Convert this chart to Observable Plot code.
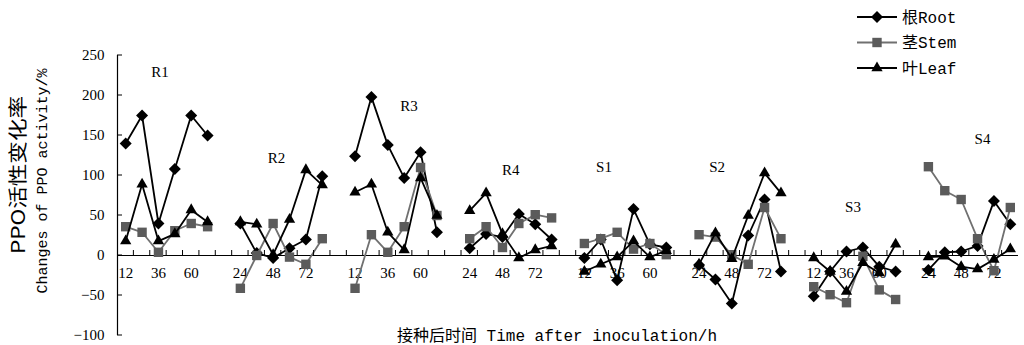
<!DOCTYPE html>
<html>
<head>
<meta charset="utf-8">
<script src="https://cdn.jsdelivr.net/npm/d3@7"></script>
<script src="https://cdn.jsdelivr.net/npm/@observablehq/plot@0.6"></script>
<style>
  html, body { margin: 0; padding: 0; background: #fff; }
</style>
</head>
<body>
<div id="chart"></div>
<script>
// ---- data ----
const groups = ["R1", "R2", "R3", "R4", "S1", "S2", "S3", "S4"];
const times = [12, 24, 36, 48, 60, 72];
const rootByGroup = [
  [140, 175, 40, 108, 175, 150],
  [40, 3, -3, 9, 20, 99],
  [124, 198, 138, 97, 129, 29],
  [9, 27, 23, 52, 39, 20],
  [-3, 20, -31, 58, 14, 10],
  [-12, -30, -60, 25, 70, -20],
  [-51, -20, 5, 10, -14, -20],
  [-18, 4, 5, 12, 68, 39]
];
const stemByGroup = [
  [36, 29, 4, 31, 40, 36],
  [-41, 0, 40, -2, -11, 21],
  [-41, 26, 4, 36, 110, 50],
  [21, 36, 10, 40, 51, 47],
  [15, 21, 29, 8, 15, 1],
  [26, 23, 1, -11, 60, 21],
  [-39, -49, -59, -1, -43, -55],
  [111, 81, 70, 21, -19, 60]
];
const leafByGroup = [
  [18, 89, 18, 27, 57, 42],
  [42, 39, 1, 45, 107, 88],
  [79, 89, 29, 7, 97, 50],
  [56, 78, 27, -3, 7, 12],
  [-20, -11, -2, 18, -2, 6],
  [-11, 28, -4, 50, 103, 78],
  [-3, -20, -45, -9, -22, 14],
  [-2, -1, -14, -17, -5, 8]
];
// x tick labels shown under each group (at the 1st, 3rd and 5th point)
const xTickLabels = [
  ["12", "36", "60"], ["24", "48", "72"], ["12", "36", "60"], ["24", "48", "72"],
  ["12", "36", "60"], ["24", "48", "72"], ["12", "36", "60"], ["24", "48", "72"]
];
const xTickSlots = [0, 2, 4];
// group label anchor: position within group (in points) and value
const groupLabelSlot = [2.1, 2.2, 3.3, 2.5, 1.2, 1.1, 2.4, 3.3];
const groupLabelValue = [229, 122, 187, 107, 111, 111, 60, 146];
const yTicks = [-100, -50, 0, 50, 100, 150, 200, 250];
const seriesNames = ["根Root", "茎Stem", "叶Leaf"];

// ---- build tables ----
const slotsPerGroup = times.length + 1; // one empty category between groups
const nCats = groups.length * slotsPerGroup - 1;
const rows = [];
groups.forEach((g, gi) => times.forEach((t, ti) => rows.push({
  group: g, time: t, x: gi * slotsPerGroup + ti,
  root: rootByGroup[gi][ti], stem: stemByGroup[gi][ti], leaf: leafByGroup[gi][ti]
})));
const tickRows = [];
groups.forEach((g, gi) => xTickSlots.forEach((s, si) => tickRows.push({
  x: gi * slotsPerGroup + s, label: xTickLabels[gi][si]
})));
const labelRows = groups.map((g, gi) => ({
  x: gi * slotsPerGroup + groupLabelSlot[gi], y: groupLabelValue[gi], label: g
}));

const stemFill = "#5b5b5b", stemLine = "#707070";
const rD = 5.4, rS = 5.3, rT = 4.2;

const chart = Plot.plot({
  width: 1024, height: 345,
  marginLeft: 117, marginRight: 6, marginTop: 55, marginBottom: 10,
  x: { domain: [-0.5, nCats - 0.5], axis: null },
  y: { domain: [-100, 250], axis: null },
  style: { fontFamily: "'Liberation Serif', serif", fontSize: "15px", background: "#fff", color: "#000" },
  marks: [
    Plot.ruleX([-0.5], { y1: -100, y2: 250, stroke: "#000", strokeWidth: 1.2 }),
    Plot.ruleY([0], { stroke: "#000", strokeWidth: 1.2 }),
    Plot.axisY({ ticks: yTicks, tickSize: 0, tickPadding: 13, label: null, fontSize: 15 }),
    Plot.text(tickRows, { x: "x", y: 0, text: "label", dy: 18, fontSize: 15 }),
    Plot.text(labelRows, { x: "x", y: "y", text: "label", fontSize: 15 }),
    Plot.line(rows, { x: "x", y: "root", z: "group", stroke: "#000", strokeWidth: 1.8 }),
    Plot.dot(rows, { x: "x", y: "root", symbol: "diamond2", r: rD, fill: "#000" }),
    Plot.line(rows, { x: "x", y: "stem", z: "group", stroke: stemLine, strokeWidth: 1.8 }),
    Plot.dot(rows, { x: "x", y: "stem", symbol: "square", r: rS, fill: stemFill }),
    Plot.line(rows, { x: "x", y: "leaf", z: "group", stroke: "#000", strokeWidth: 1.8 }),
    Plot.dot(rows, { x: "x", y: "leaf", symbol: "triangle", r: rT, fill: "#000" })
  ]
});
document.getElementById("chart").appendChild(chart);

// ---- tick marks, legend and titles, via the plot's own scales ----
const svg = d3.select(chart);
const xs = chart.scale("x"), ys = chart.scale("y");
const y0 = ys.apply(0), xLeft = xs.apply(-0.5);
const tg = svg.append("g").attr("stroke", "#000").attr("stroke-width", 1);
d3.range(1, nCats).forEach(k => {
  const xx = xs.apply(k - 0.5);
  tg.append("line").attr("x1", xx).attr("x2", xx).attr("y1", y0).attr("y2", y0 - 5);
});
yTicks.forEach(v => {
  const yy = ys.apply(v);
  tg.append("line").attr("x1", xLeft).attr("x2", xLeft + 5).attr("y1", yy).attr("y2", yy);
});

// legend
const lg = svg.append("g").attr("text-anchor", "start");
const legendStyles = [
  { stroke: "#000", fill: "#000", sym: d3.symbolDiamond2, r: rD },
  { stroke: stemLine, fill: stemFill, sym: d3.symbolSquare, r: rS },
  { stroke: "#000", fill: "#000", sym: d3.symbolTriangle, r: rT }
];
seriesNames.forEach((name, i) => {
  const ly = 17 + i * 25.5;
  const st = legendStyles[i];
  lg.append("line").attr("x1", 857).attr("x2", 897).attr("y1", ly).attr("y2", ly)
    .attr("stroke", st.stroke).attr("stroke-width", 1.8);
  lg.append("path").attr("transform", `translate(877,${ly})`)
    .attr("d", d3.symbol(st.sym, Math.PI * st.r * st.r)()).attr("fill", st.fill);
  lg.append("text").attr("x", 902).attr("y", ly).attr("dy", "0.35em")
    .attr("text-anchor", "start")
    .attr("font-family", "'Liberation Mono', 'Noto Sans CJK SC', monospace")
    .attr("font-size", 16).attr("fill", "#000").text(name);
});

// y axis title (two lines)
svg.append("text").attr("transform", "translate(18,175) rotate(-90)")
  .attr("text-anchor", "middle").attr("dy", "0.35em")
  .attr("font-family", "'Noto Sans CJK SC', sans-serif")
  .attr("font-size", 19).attr("textLength", 158).attr("lengthAdjust", "spacingAndGlyphs")
  .text("PPO活性变化率");
svg.append("text").attr("transform", "translate(42,181) rotate(-90)")
  .attr("text-anchor", "middle").attr("dy", "0.35em")
  .attr("font-family", "'Liberation Mono', 'Noto Sans CJK SC', monospace")
  .attr("font-size", 15)
  .text("Changes of PPO activity/%");
// x axis title
svg.append("text").attr("x", 557).attr("y", 335).attr("dy", "0.35em")
  .attr("text-anchor", "middle")
  .attr("font-family", "'Liberation Mono', 'Noto Sans CJK SC', monospace")
  .attr("font-size", 16)
  .text("接种后时间 Time after inoculation/h");
</script>
</body>
</html>
